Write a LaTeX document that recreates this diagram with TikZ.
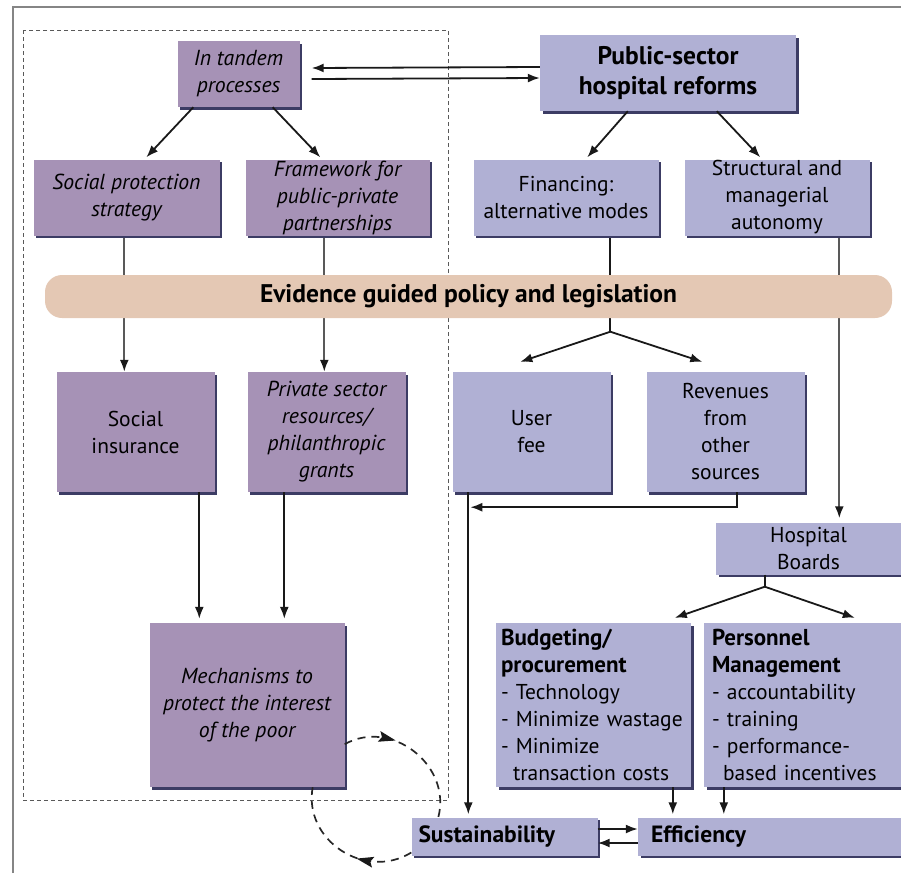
\documentclass[tikz,border=0pt]{standalone}
\usepackage{fontspec}
\setmainfont{PT Sans}
\usetikzlibrary{arrows.meta,shadows,decorations.markings,backgrounds}
\definecolor{purp}{HTML}{A692B6}
\definecolor{lav}{HTML}{B0B0D4}
\definecolor{shad}{HTML}{3C3C64}
\definecolor{bandc}{HTML}{E4C8B4}
\definecolor{framec}{HTML}{858585}
\newcommand\mybold[1]{{\fontsize{23}{27}\selectfont\bfseries #1}}
\begin{document}
\begin{tikzpicture}[x=1pt,y=-1pt,
  box/.style={inner sep=0pt, align=center,
    drop shadow={shadow xshift=2.5pt,shadow yshift=-2.5pt,fill=shad,opacity=1}},
  pbox/.style={box, fill=purp},
  lbox/.style={box, fill=lav},
  rm/.style={font=\fontsize{21.5}{27}\selectfont},
  it/.style={font=\fontsize{21.7}{27}\selectfont\itshape},
  bf/.style={font=\fontsize{23.5}{27}\selectfont\bfseries},
  arr/.style={draw=black!90, line width=1.8pt, -{Latex[length=12pt,width=9pt]}},
  ln/.style={draw=black!90, line width=1.8pt},
  gln/.style={draw=black!65, line width=2.1pt},
  garr/.style={gln, -{Latex[length=12pt,width=9pt,color=black!90]}},
  dsh/.style={draw=black!85, line width=1.7pt, dash pattern=on 8pt off 6pt},
  midarr/.style={postaction={decorate},
    decoration={markings, mark=at position #1 with {\fill[black!90] (-9pt,-5.5pt) -- (8pt,0pt) -- (-9pt,5.5pt) -- (-6pt,0pt) -- cycle;}}}
]
\useasboundingbox (0,0) rectangle (901,873);
% frame
\draw[framec, line width=1.8pt] (13,873) -- (13,7) -- (901,7);
\draw[black!65, line width=0.8pt, dash pattern=on 4pt off 3pt] (23,30) rectangle (448,800);

% nodes
\node[pbox, it, minimum width=122pt, minimum height=66pt] (tandem) at (238.5,74) {In tandem\\processes};
\node[lbox, font=\fontsize{25.5}{30}\selectfont\bfseries, minimum width=256pt, minimum height=76pt] (pub) at (668,73) {Public-sector\\hospital reforms};
\node[pbox, it, minimum width=186pt, minimum height=76pt] (sps) at (126.5,197.5) {Social protection\\strategy};
\node[pbox, it, minimum width=184pt, minimum height=76pt] (fw) at (337.5,197.5) {Framework for\\public-private\\partnerships};
\node[lbox, rm, minimum width=185pt, minimum height=76pt] (fin) at (566,197.5) {Financing:\\alternative modes};
\node[lbox, rm, minimum width=185pt, minimum height=76pt] (str) at (777,197.5) {Structural and\\managerial\\autonomy};
\node[fill=bandc, rounded corners=17pt, minimum width=847pt, minimum height=43pt, inner sep=0pt,
  font=\fontsize{25.5}{28}\selectfont\bfseries] (band) at (468.5,296.5) {Evidence guided policy and legislation};
\node[pbox, rm, minimum width=158pt, minimum height=120pt] (si) at (135.5,432) {Social\\insurance};
\node[pbox, it, minimum width=158pt, minimum height=120pt] (ps) at (326.5,432) {Private sector\\resources/\\philanthropic\\grants};
\node[lbox, rm, minimum width=158pt, minimum height=120pt] (uf) at (531.5,432) {User\\fee};
\node[lbox, rm, minimum width=158pt, minimum height=120pt] (rev) at (725.5,432) {Revenues\\from\\other\\sources};
\node[lbox, rm, minimum width=185pt, minimum height=52pt] (hb) at (808.5,548.5) {Hospital\\Boards};
\node[pbox, it, minimum width=195pt, minimum height=164pt] (mech) at (247,705) {Mechanisms to\\protect the interest\\of the poor};
\node[lbox, rm, align=left, inner xsep=5pt, text width=185pt, minimum height=164pt] (bud) at (593.5,705)
  {\mybold{Budgeting/}\\\mybold{procurement}\\- Technology\\- Minimize wastage\\- Minimize\\\hspace*{12pt}transaction costs};
\node[lbox, rm, align=left, inner xsep=8pt, text width=184pt, minimum height=164pt] (per) at (804,705)
  {\mybold{Personnel}\\\mybold{Management}\\- accountability\\- training\\- performance-\\\hspace*{11pt}based incentives};
\node[lbox, bf, align=left, inner xsep=7pt, text width=172pt, minimum height=38pt] (sus) at (504.5,836.5) {Sustainability};
\node[lbox, bf, align=left, inner xsep=13pt, text width=239pt, minimum height=38pt] (eff) at (770.5,836.5) {Efficiency};

% connectors behind the band
\begin{pgfonlayer}{background}
\draw[garr] ([xshift=91pt]sps.south west) -- ([xshift=91pt]sps.south west |- si.north);
\draw[garr] ([xshift=79pt]fw.south west) -- ([xshift=79pt]fw.south west |- ps.north);
\coordinate (fsplit) at ([xshift=137pt,yshift=-96pt]fin.south west);
\draw[ln] ([xshift=137pt]fin.south west) -- (fsplit);
\draw[garr, shorten >=4pt] ([xshift=155pt]str.south west) -- ([xshift=155pt]str.south west |- hb.north);
\end{pgfonlayer}

% arrows
\draw[arr] ([yshift=6pt]pub.west) -- ([yshift=6pt,xshift=12pt]tandem.east);
\draw[arr] ([yshift=-5pt,xshift=12pt]tandem.east) -- ([yshift=-5pt]pub.west);
\draw[arr] ([xshift=16pt]tandem.south west) -- ([xshift=113pt,yshift=2pt]sps.north west);
\draw[arr] ([xshift=-27pt]tandem.south east) -- ([xshift=75pt,yshift=2pt]fw.north west);
\draw[arr] ([xshift=88pt]pub.south west) -- ([xshift=114pt,yshift=2pt]fin.north west);
\draw[arr] ([xshift=177pt]pub.south west) -- ([xshift=76pt,yshift=2pt]str.north west);
\draw[arr] (fsplit) -- ([xshift=68pt,yshift=10pt]uf.north west);
\draw[arr] (fsplit) -- ([xshift=56pt,yshift=10pt]rev.north west);
\draw[arr, shorten >=4pt] ([xshift=143pt]si.south west) -- ([xshift=143pt]si.south west |- mech.north);
\draw[arr, shorten >=4pt] ([xshift=37pt]ps.south west) -- ([xshift=37pt]ps.south west |- mech.north);
\draw[arr, shorten >=3pt] ([xshift=16pt]uf.south west) -- ([xshift=16pt]uf.south west |- sus.north);
\draw[arr] ([xshift=91pt]rev.south west) |- ([xshift=18pt,yshift=-15pt]uf.south west);
\coordinate (hsplit) at ([xshift=49pt,yshift=-12pt]hb.south west);
\draw[ln] ([xshift=49pt]hb.south west) -- (hsplit);
\draw[arr] (hsplit) -- ([xshift=179pt,yshift=5pt]bud.north west);
\draw[arr] (hsplit) -- ([xshift=151pt,yshift=5pt]per.north west);
\draw[arr, shorten >=3pt] ([xshift=177pt]bud.south west) -- ([xshift=177pt]bud.south west |- eff.north);
\draw[arr, shorten >=3pt] ([xshift=20pt]per.south west) -- ([xshift=20pt]per.south west |- eff.north);
\draw[arr] ([yshift=7.5pt]sus.east) -- ([yshift=7.5pt]eff.west);
\draw[arr] ([yshift=-6.5pt]eff.west) -- ([yshift=-6.5pt]sus.east);

% dashed loop
\draw[dsh, midarr=0.3] ([yshift=43pt]mech.south east) .. controls (391,718) and (452,765) .. ([xshift=27pt]sus.north west);
\draw[dsh, midarr=0.33] ([yshift=-16pt]sus.west) .. controls (365,881) and (303,840) .. ([xshift=-32pt]mech.south east);
\end{tikzpicture}
\end{document}
